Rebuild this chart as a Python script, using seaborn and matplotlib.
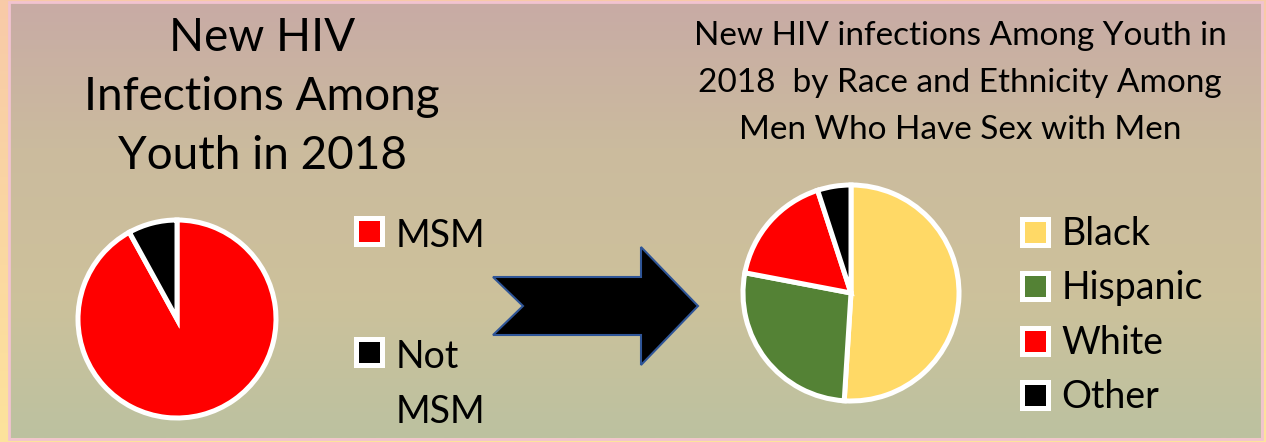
import numpy as np
import seaborn as sns
import matplotlib.pyplot as plt
from matplotlib.patches import Polygon, Rectangle
from matplotlib.colors import LinearSegmentedColormap

# data
youth_labels = ["MSM", "Not\nMSM"]
youth_values = [92, 8]
youth_colors = ["#ff0000", "#000000"]

race_labels = ["Black", "Hispanic", "White", "Other"]
race_values = [51, 27, 17, 5]
race_colors = ["#ffd966", "#548235", "#ff0000", "#000000"]

left_title = "New HIV\nInfections Among\nYouth in 2018"
right_title = "New HIV infections Among Youth in\n2018  by Race and Ethnicity Among\nMen Who Have Sex with Men"

sns.set_theme(style="white")
plt.rcParams['font.family'] = ['Lato', 'DejaVu Sans']

W, H = 1266, 442
fig = plt.figure(figsize=(W / 100, H / 100), dpi=100)

# background panel with gradient and frame
bg = fig.add_axes([0, 0, 1, 1])
outer = LinearSegmentedColormap.from_list('outer', ['#f8caa8', '#fde39c'])
panel = LinearSegmentedColormap.from_list('panel', ['#c8aba5', '#cbbb9e', '#cdc19b', '#bcc2a0'])
grad = np.linspace(0, 1, 256)[:, None]
bg.imshow(grad, cmap=outer, extent=(0, W, H, 0), aspect='auto')
bg.imshow(grad, cmap=panel, extent=(10, 1261, 438, 3), aspect='auto')
bg.add_patch(Rectangle((9, 2), 1253, 437, fill=False, ec='#f2c3d0', lw=2))

# arrow between the two pies
arrow = [(493, 277), (641, 277), (641, 247), (698, 306), (641, 365),
         (641, 335), (493, 335), (523, 306)]
bg.add_patch(Polygon(arrow, closed=True, fc='black', ec='#2f5597', lw=1.5))
bg.set_xlim(0, W)
bg.set_ylim(H, 0)
bg.axis('off')


def pie_axes(cx, cy, r, m=1.06):
    return fig.add_axes([(cx - r * m) / W, 1 - (cy + r * m) / H, 2 * r * m / W, 2 * r * m / H])


wedge_style = dict(edgecolor='white', linewidth=3.6)

ax1 = pie_axes(177, 319, 99)
w1, _ = ax1.pie(youth_values, colors=youth_colors, startangle=90,
                counterclock=False, wedgeprops=wedge_style)
ax1.set_xlim(-1.06, 1.06)
ax1.set_ylim(-1.06, 1.06)

ax2 = pie_axes(851, 293, 108)
w2, _ = ax2.pie(race_values, colors=race_colors, startangle=90,
                counterclock=False, wedgeprops=wedge_style)
ax2.set_xlim(-1.06, 1.06)
ax2.set_ylim(-1.06, 1.06)

# titles
fig.text(262 / W, 1 - 17 / H, left_title, ha='center', va='top',
         fontsize=33, linespacing=1.5, color='black')
fig.text(960 / W, 1 - 21 / H, right_title, ha='center', va='top',
         fontsize=24, linespacing=1.7, color='black')

# legends
leg1 = fig.legend(w1, youth_labels, loc='upper left', bbox_to_anchor=(356 / W, 1 - 218 / H),
                  frameon=False, fontsize=27, handlelength=0.7, handleheight=0.7,
                  handletextpad=0.35, labelspacing=2.27, borderpad=0, borderaxespad=0,
                  labelcolor='black')
for t in leg1.get_texts():
    t.set_linespacing(1.65)
for col in leg1._legend_handle_box.get_children():
    for row in col.get_children():
        row.align = 'top'

leg2 = fig.legend(w2, race_labels, loc='upper left', bbox_to_anchor=(1022 / W, 1 - 216 / H),
                  frameon=False, fontsize=27, handlelength=0.7, handleheight=0.7,
                  handletextpad=0.35, labelspacing=0.49, borderpad=0, borderaxespad=0,
                  labelcolor='black')

fig.savefig('out.png', dpi=100)
